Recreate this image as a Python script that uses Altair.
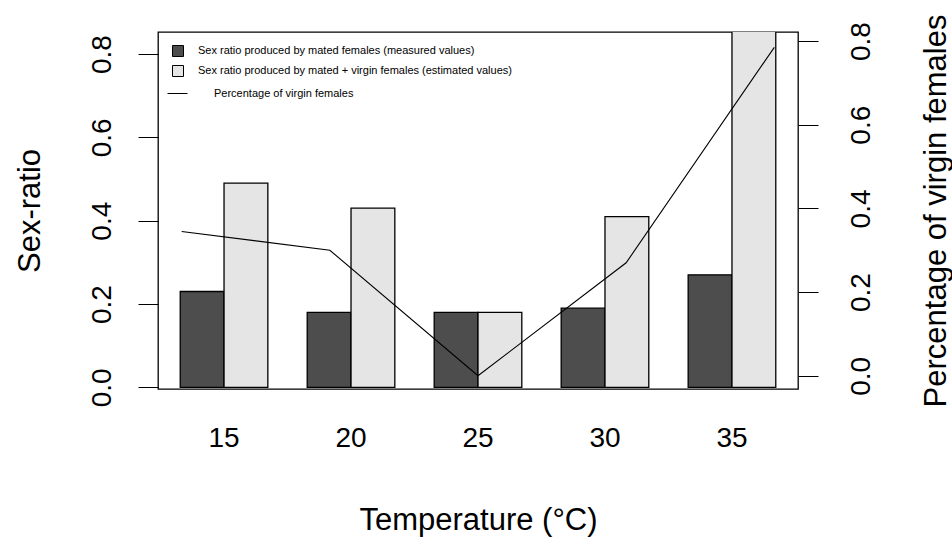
import altair as alt
import pandas as pd

# Temperatures (°C) and measured/estimated sex ratios
temperatures = ["15", "20", "25", "30", "35"]
temp_values = [15, 20, 25, 30, 35]
mated_ratio = [0.23, 0.18, 0.18, 0.19, 0.27]
estimated_ratio = [0.49, 0.43, 0.18, 0.41, 0.86]
virgin_share = [0.345, 0.30, 0.0, 0.27, 0.785]

series_names = [
    "Sex ratio produced by mated females (measured values)",
    "Sex ratio produced by mated + virgin females (estimated values)",
]
line_name = "Percentage of virgin females"

FONT = "Liberation Sans"
TICK_FS = 28
TITLE_FS = 31
W, H = 640, 357

bars_df = pd.DataFrame(
    {
        "temp": temperatures * 2,
        "series": [series_names[0]] * 5 + [series_names[1]] * 5,
        "value": mated_ratio + estimated_ratio,
    }
)
line_df = pd.DataFrame({"t": temp_values, "share": virgin_share, "label": [line_name] * 5})

bars = (
    alt.Chart(bars_df)
    .mark_bar(stroke="black", strokeWidth=1.3, clip=True)
    .encode(
        x=alt.X(
            "temp:N",
            sort=temperatures,
            scale=alt.Scale(paddingInner=0.31, paddingOuter=0.175),
            axis=alt.Axis(
                title="Temperature (°C)",
                labelAngle=0,
                ticks=False,
                domain=False,
                tickSize=0,
                labelPadding=49,
                labelBaseline="middle",
                labelFontSize=TICK_FS,
                titleFontSize=TITLE_FS,
                titleFontWeight="normal",
                titleBaseline="middle",
                titleY=131,
            ),
        ),
        xOffset=alt.XOffset("series:N", sort=series_names,
                            scale=alt.Scale(paddingInner=0, paddingOuter=0)),
        y=alt.Y(
            "value:Q",
            scale=alt.Scale(domain=[-0.004, 0.853], nice=False, zero=False),
            axis=alt.Axis(
                title="Sex-ratio",
                values=[0.0, 0.2, 0.4, 0.6, 0.8],
                format=".1f",
                grid=False,
                domain=False,
                tickSize=20,
                tickColor="black",
                labelAngle=270,
                labelAlign="center",
                labelBaseline="alphabetic",
                labelPadding=28,
                labelFontSize=TICK_FS,
                titleFontSize=TITLE_FS,
                titleFontWeight="normal",
                titleAngle=270,
                titleAlign="center",
                titleBaseline="alphabetic",
                titleX=-119,
                titleY=H / 2,
            ),
        ),
        y2=alt.datum(0),
        fill=alt.Fill(
            "series:N",
            sort=series_names,
            scale=alt.Scale(domain=series_names, range=["#4d4d4d", "#e5e5e5"]),
            legend=alt.Legend(
                title=None,
                orient="none",
                legendX=14,
                legendY=13,
                symbolType="square",
                symbolSize=121,
                symbolStrokeColor="black",
                symbolStrokeWidth=1,
                labelFontSize=11,
                labelOffset=14,
                labelLimit=0,
                rowPadding=4,
                padding=0,
            ),
        ),
    )
)

line = (
    alt.Chart(line_df)
    .mark_line(color="black", strokeWidth=1.1)
    .encode(
        x=alt.X("t:Q", scale=alt.Scale(domain=[14.2, 35.8], nice=False, zero=False), axis=None),
        y=alt.Y(
            "share:Q",
            scale=alt.Scale(domain=[-0.0316, 0.8216], nice=False, zero=False),
            axis=alt.Axis(
                orient="right",
                title="Percentage of virgin females",
                values=[0.0, 0.2, 0.4, 0.6, 0.8],
                format=".1f",
                grid=False,
                domain=False,
                tickSize=20,
                tickColor="black",
                labelAngle=270,
                labelAlign="center",
                labelBaseline="alphabetic",
                labelPadding=51,
                labelFontSize=TICK_FS,
                titleFontSize=TITLE_FS,
                titleFontWeight="normal",
                titleAngle=270,
                titleAlign="center",
                titleBaseline="alphabetic",
                titleX=147,
                titleY=H / 2,
            ),
        ),
        stroke=alt.Stroke(
            "label:N",
            scale=alt.Scale(domain=[line_name], range=["black"]),
            legend=alt.Legend(
                title=None,
                orient="none",
                legendX=9,
                legendY=51,
                symbolType="stroke",
                symbolSize=400,
                symbolStrokeWidth=1,
                labelFontSize=11,
                labelOffset=26,
                labelLimit=0,
                padding=0,
            ),
        ),
    )
)

chart = (
    alt.layer(bars, line)
    .resolve_scale(x="independent", y="independent", fill="independent", stroke="independent")
    .properties(
        width=W,
        height=H,
        autosize=alt.AutoSizeParams(type="none"),
        padding={"left": 158, "top": 32, "right": 154, "bottom": 154},
    )
    .configure(font=FONT)
    .configure_view(stroke="black", strokeWidth=1.3)
    .configure_axis(labelColor="black", titleColor="black", labelFont=FONT, titleFont=FONT)
    .configure_legend(labelColor="black", labelFont=FONT)
)

chart.save("out.html", embed_options={"renderer": "svg", "actions": False})
